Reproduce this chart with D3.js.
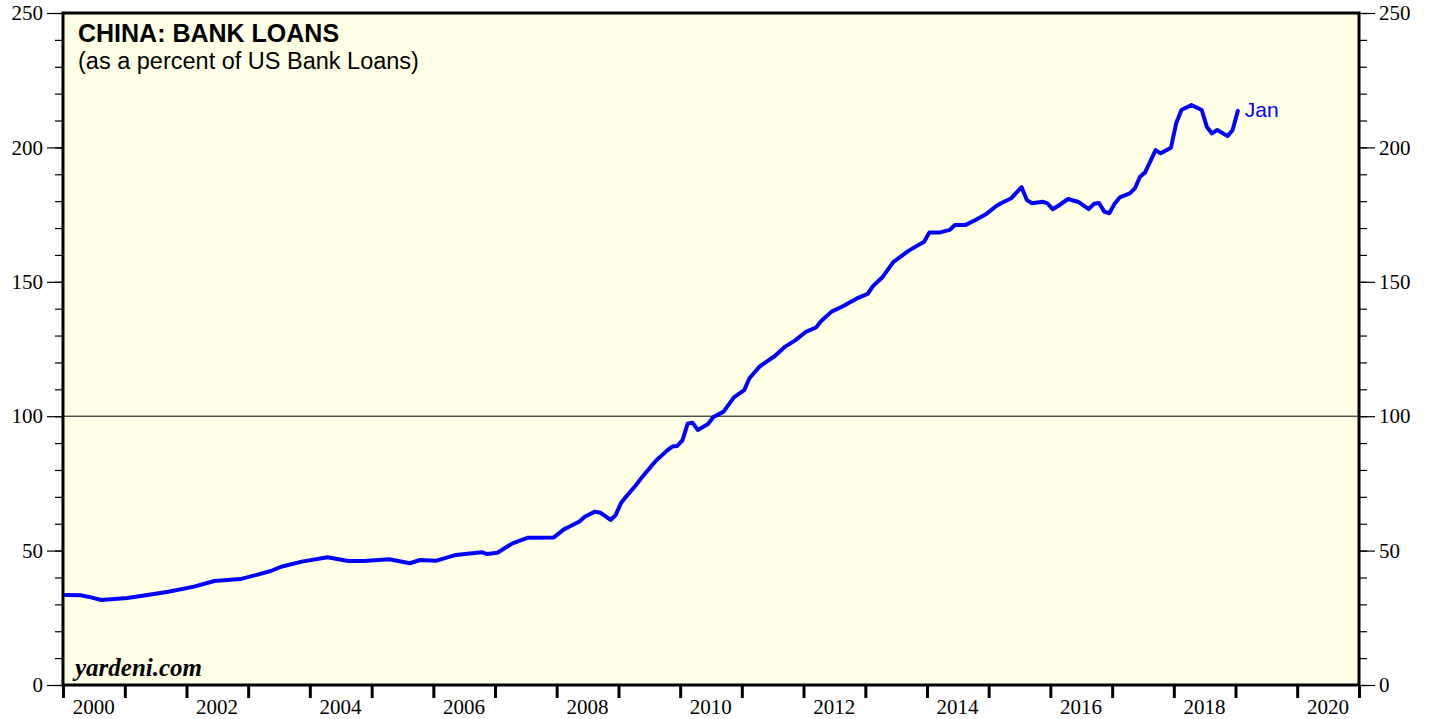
<!DOCTYPE html>
<html>
<head>
<meta charset="utf-8">
<script src="https://cdn.jsdelivr.net/npm/d3@7"></script>
<style>
  body { margin: 0; background: #ffffff; }
  svg { display: block; }
</style>
</head>
<body>
<div id="chart"></div>
<script>
// monthly readings of china bank loans as % of US bank loans
var months = [
  "2000-01","2000-04","2000-06","2000-08","2001-01","2001-05","2001-09",
  "2002-02","2002-06","2002-11","2003-02","2003-05","2003-07","2003-11",
  "2004-04","2004-08","2004-11","2005-04","2005-08","2005-10","2006-01",
  "2006-05","2006-10","2006-11","2007-01","2007-04","2007-07","2007-12",
  "2008-02","2008-03","2008-05","2008-06","2008-08","2008-09","2008-11","2008-12",
  "2009-01","2009-02","2009-04","2009-05","2009-07","2009-08","2009-10","2009-11","2009-12",
  "2010-01","2010-02","2010-03","2010-04","2010-06","2010-07","2010-09","2010-11",
  "2011-01","2011-02","2011-04","2011-07","2011-09","2011-11",
  "2012-01","2012-03","2012-04","2012-06","2012-08","2012-11",
  "2013-01","2013-02","2013-04","2013-06","2013-09","2013-12",
  "2014-01","2014-03","2014-05","2014-06","2014-08","2014-10","2014-12",
  "2015-02","2015-03","2015-05","2015-07","2015-08","2015-09","2015-11","2015-12",
  "2016-01","2016-02","2016-04","2016-06","2016-08","2016-09","2016-10","2016-11","2016-12",
  "2017-01","2017-02","2017-04","2017-05","2017-06","2017-07","2017-09","2017-10","2017-12",
  "2018-01","2018-02","2018-04","2018-06","2018-07","2018-08","2018-09","2018-11","2018-12",
  "2019-01"
];
var loans = [
  33.5,33.4,32.6,31.6,32.4,33.5,34.7,
  36.6,38.7,39.4,40.9,42.4,44.0,45.9,
  47.5,46.1,46.1,46.8,45.3,46.5,46.2,
  48.4,49.4,48.7,49.2,52.7,54.8,54.9,
  58.0,58.9,60.8,62.6,64.5,64.1,61.4,63.2,
  67.6,70.1,74.4,76.9,81.5,83.7,87.2,88.7,88.9,
  91.1,97.3,97.6,94.9,97.1,99.6,101.7,107.0,
  109.7,114.1,118.4,122.4,125.9,128.3,
  131.4,133.0,135.4,138.9,140.7,143.9,
  145.5,148.4,151.9,157.3,161.6,164.9,
  168.3,168.3,169.3,171.1,171.1,173.0,175.1,
  178.2,179.2,181.1,185.2,180.4,179.2,179.8,179.2,
  177.0,178.2,180.8,179.7,177.0,179.0,179.3,176.1,175.5,
  179.0,181.4,182.9,184.7,189.1,190.7,199.0,197.8,199.9,
  209.0,213.9,215.8,213.9,207.7,205.2,206.5,204.2,206.5,
  213.6
];
var yTicks = [0, 50, 100, 150, 200, 250];
var yearLabels = [2000, 2002, 2004, 2006, 2008, 2010, 2012, 2014, 2016, 2018, 2020];

var svgWidth = 1429;
var svgHeight = 719;
var margin = { top: 13, right: 70, bottom: 34, left: 63 };
var chartWidth = svgWidth - margin.left - margin.right;
var chartHeight = svgHeight - margin.top - margin.bottom;

var parseMonth = d3.timeParse("%Y-%m");
var data = months.map(function(m, i) {
  return { date: d3.timeDay.offset(parseMonth(m), 14), value: loans[i] };
});

var svg = d3.select("#chart")
  .append("svg")
  .attr("width", svgWidth)
  .attr("height", svgHeight);

var chartGroup = svg.append("g")
  .attr("transform", `translate(${margin.left}, ${margin.top})`);

var xScale = d3.scaleTime()
  .domain([new Date(2000, 0, 1), new Date(2021, 0, 1)])
  .range([0, chartWidth]);

var yScale = d3.scaleLinear()
  .domain([0, 250])
  .range([chartHeight, 0]);

// plot background
chartGroup.append("rect")
  .attr("width", chartWidth)
  .attr("height", chartHeight)
  .attr("fill", "#ffffe5");

// reference line at 100
chartGroup.append("line")
  .attr("x1", 0).attr("x2", chartWidth)
  .attr("y1", yScale(100)).attr("y2", yScale(100))
  .attr("stroke", "#000").attr("stroke-width", 1);

// y axes: minor ticks every 10, major every 50
function styleAxis(g) {
  g.select(".domain").remove();
  g.selectAll("line").attr("stroke", "#000").attr("stroke-width", 1.2);
  g.selectAll("text")
    .attr("font-family", "'Liberation Serif', 'Times New Roman', serif")
    .attr("font-size", "21px")
    .attr("fill", "#000");
}

chartGroup.append("g")
  .call(d3.axisLeft(yScale).tickValues(d3.range(0, 251, 10)).tickSize(8).tickFormat(""))
  .call(styleAxis);
chartGroup.append("g")
  .call(d3.axisLeft(yScale).tickValues(yTicks).tickSize(16).tickPadding(4))
  .call(styleAxis);

chartGroup.append("g")
  .attr("transform", `translate(${chartWidth}, 0)`)
  .call(d3.axisRight(yScale).tickValues(d3.range(0, 251, 10)).tickSize(8).tickFormat(""))
  .call(styleAxis);
chartGroup.append("g")
  .attr("transform", `translate(${chartWidth}, 0)`)
  .call(d3.axisRight(yScale).tickValues(yTicks).tickSize(16).tickPadding(4))
  .call(styleAxis);

// x axis: year ticks, labels centred in even years
var xAxis = chartGroup.append("g")
  .attr("transform", `translate(0, ${chartHeight})`)
  .call(d3.axisBottom(xScale).ticks(d3.timeYear.every(1)).tickSize(13).tickFormat(""));
xAxis.select(".domain").remove();
xAxis.selectAll("line").attr("stroke", "#000").attr("stroke-width", 3);

chartGroup.selectAll(".year-label")
  .data(yearLabels)
  .enter()
  .append("text")
  .attr("class", "year-label")
  .attr("x", d => xScale(new Date(d, 6, 1)))
  .attr("y", chartHeight + 29)
  .attr("text-anchor", "middle")
  .attr("font-family", "'Liberation Serif', 'Times New Roman', serif")
  .attr("font-size", "21px")
  .text(d => d);

// the series
var line = d3.line()
  .x(d => xScale(d.date))
  .y(d => yScale(d.value));

chartGroup.append("path")
  .datum(data)
  .attr("d", line)
  .attr("fill", "none")
  .attr("stroke", "#0000ff")
  .attr("stroke-width", 4)
  .attr("stroke-linejoin", "round")
  .attr("stroke-linecap", "round");

var last = data[data.length - 1];
chartGroup.append("text")
  .attr("x", xScale(last.date) + 7)
  .attr("y", yScale(last.value) + 6)
  .attr("font-family", "'Liberation Sans', Arial, sans-serif")
  .attr("font-size", "21px")
  .attr("fill", "#0000ff")
  .text("Jan");

// frame
chartGroup.append("rect")
  .attr("width", chartWidth)
  .attr("height", chartHeight)
  .attr("fill", "none")
  .attr("stroke", "#000")
  .attr("stroke-width", 3);

// titles
chartGroup.append("text")
  .attr("x", 15)
  .attr("y", 28.5)
  .attr("font-family", "'Liberation Sans', Arial, sans-serif")
  .attr("font-size", "25px")
  .attr("font-weight", "bold")
  .text("CHINA: BANK LOANS");

chartGroup.append("text")
  .attr("x", 15)
  .attr("y", 56)
  .attr("font-family", "'Liberation Sans', Arial, sans-serif")
  .attr("font-size", "23.5px")
  .text("(as a percent of US Bank Loans)");

chartGroup.append("text")
  .attr("x", 12)
  .attr("y", chartHeight - 9)
  .attr("font-family", "'Liberation Serif', 'Times New Roman', serif")
  .attr("font-size", "25px")
  .attr("font-weight", "bold")
  .attr("font-style", "italic")
  .text("yardeni.com");
</script>
</body>
</html>
